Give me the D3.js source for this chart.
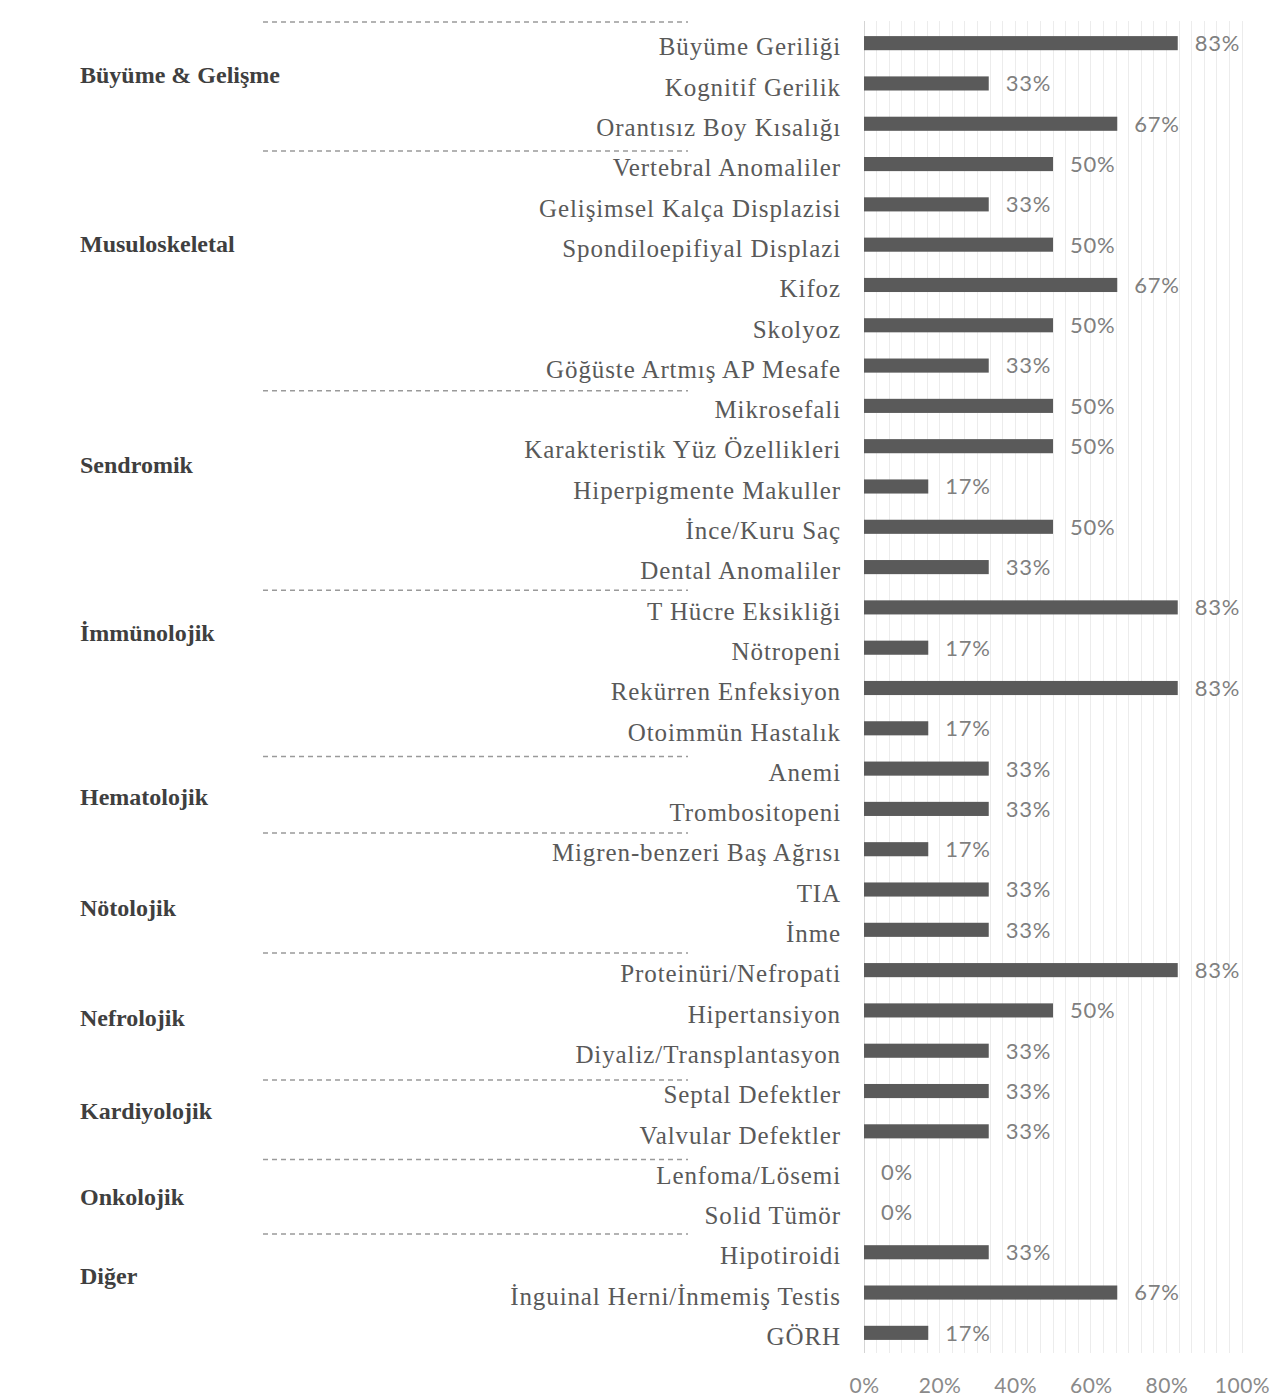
<!DOCTYPE html>
<html lang="tr">
<head>
<meta charset="utf-8">
<title>Klinik bulgular</title>
<script src="https://cdn.jsdelivr.net/npm/d3@7"></script>
<style>
  html, body { margin: 0; padding: 0; background: #ffffff; }
  svg { display: block; }
</style>
</head>
<body>
<script>
// Clinical findings, grouped by system, with the share of patients (%)
const categories = [
  "Büyüme Geriliği", "Kognitif Gerilik", "Orantısız Boy Kısalığı",
  "Vertebral Anomaliler", "Gelişimsel Kalça Displazisi", "Spondiloepifiyal Displazi",
  "Kifoz", "Skolyoz", "Göğüste Artmış AP Mesafe",
  "Mikrosefali", "Karakteristik Yüz Özellikleri", "Hiperpigmente Makuller",
  "İnce/Kuru Saç", "Dental Anomaliler",
  "T Hücre Eksikliği", "Nötropeni", "Rekürren Enfeksiyon", "Otoimmün Hastalık",
  "Anemi", "Trombositopeni",
  "Migren-benzeri Baş Ağrısı", "TIA", "İnme",
  "Proteinüri/Nefropati", "Hipertansiyon", "Diyaliz/Transplantasyon",
  "Septal Defektler", "Valvular Defektler",
  "Lenfoma/Lösemi", "Solid Tümör",
  "Hipotiroidi", "İnguinal Herni/İnmemiş Testis", "GÖRH"
];

const values = [
  83, 33, 67,
  50, 33, 50, 67, 50, 33,
  50, 50, 17, 50, 33,
  83, 17, 83, 17,
  33, 33,
  17, 33, 33,
  83, 50, 33,
  33, 33,
  0, 0,
  33, 67, 17
];

const groupNames = [
  "Büyüme & Gelişme", "Musuloskeletal", "Sendromik", "İmmünolojik",
  "Hematolojik", "Nötolojik", "Nefrolojik", "Kardiyolojik", "Onkolojik", "Diğer"
];
const groupSizes = [3, 6, 5, 4, 2, 3, 3, 2, 2, 3];

const axisTicks = [0, 20, 40, 60, 80, 100];

// ---- layout ----
const W = 1278, H = 1398;
const plot = { left: 864, right: 1242, top: 23, bottom: 1353 };
const labelRight = 840;
const groupLabelX = 80;
const sepX = [263, 688];
// fine vertical nudges (px) for group titles and dashed separators
const groupLabelNudge = [-8, -21, -21, -35, 8, 19, 8, 0, 5, -16];
const separatorNudge = [-1, 7, 5, 3, 8, 4, 3, 9, 8, 2];

const svg = d3.select("body").append("svg")
  .attr("width", W).attr("height", H)
  .attr("viewBox", `0 0 ${W} ${H}`);

const x = d3.scaleLinear().domain([0, 100]).range([plot.left, plot.right]);
const y = d3.scaleBand()
  .domain(categories)
  .range([plot.top, plot.bottom])
  .paddingInner(0.65)
  .paddingOuter(0.325);

const step = y.step();
const rowTop = i => y(categories[i]) - (step - y.bandwidth()) / 2;
const rowMid = i => y(categories[i]) + y.bandwidth() / 2;

// fine vertical gridlines
const gridVals = d3.range(0, 31).map(i => i * 100 / 30);
svg.append("g").attr("class", "grid")
  .selectAll("line").data(gridVals).join("line")
  .attr("x1", d => x(d)).attr("x2", d => x(d))
  .attr("y1", plot.top - 2).attr("y2", plot.bottom)
  .attr("stroke", d => d === 0 ? "#d4d4d4" : "#ececec")
  .attr("stroke-width", 1)
  .attr("shape-rendering", "crispEdges");

// bars
svg.append("g").attr("class", "bars")
  .selectAll("rect").data(values).join("rect")
  .attr("x", x(0))
  .attr("y", (d, i) => y(categories[i]))
  .attr("width", d => x(d) - x(0))
  .attr("height", y.bandwidth())
  .attr("fill", "#5a5a5a");

// value labels
svg.append("g").attr("class", "values")
  .selectAll("text").data(values).join("text")
  .attr("x", d => x(d) + 17)
  .attr("y", (d, i) => rowMid(i))
  .attr("dy", "0.36em")
  .attr("font-family", "Lato, 'Open Sans', sans-serif")
  .attr("font-size", 22)
  .attr("letter-spacing", 0.8)
  .attr("fill", "#7f7f7f")
  .text(d => d + "%");

// category labels
svg.append("g").attr("class", "cats")
  .selectAll("text").data(categories).join("text")
  .attr("x", labelRight + 1)
  .attr("y", (d, i) => rowMid(i) + 4)
  .attr("dy", "0.33em")
  .attr("text-anchor", "end")
  .attr("font-family", "'Liberation Serif', 'Times New Roman', serif")
  .attr("font-size", 25)
  .attr("letter-spacing", 0.9)
  .attr("fill", "#595959")
  .text(d => d);

// group boundaries and titles
const starts = [];
groupSizes.reduce((acc, n) => { starts.push(acc); return acc + n; }, 0);

svg.append("g").attr("class", "separators")
  .selectAll("line").data(starts).join("line")
  .attr("x1", sepX[0]).attr("x2", sepX[1])
  .attr("y1", (s, i) => rowTop(s) + separatorNudge[i])
  .attr("y2", (s, i) => rowTop(s) + separatorNudge[i])
  .attr("stroke", "#9a9a9a")
  .attr("stroke-width", 1.5)
  .attr("stroke-dasharray", "5 4");

svg.append("g").attr("class", "groups")
  .selectAll("text").data(groupNames).join("text")
  .attr("x", groupLabelX)
  .attr("y", (g, i) => {
    const a = starts[i], b = a + groupSizes[i] - 1;
    return (rowMid(a) + rowMid(b)) / 2 + groupLabelNudge[i];
  })
  .attr("dy", "0.33em")
  .attr("font-family", "'Liberation Serif', 'Times New Roman', serif")
  .attr("font-weight", "bold")
  .attr("font-size", 24)
  .attr("fill", "#3f3f3f")
  .text(d => d);

// bottom axis
const axis = svg.append("g").attr("class", "x-axis")
  .attr("transform", `translate(0,${plot.bottom})`)
  .call(d3.axisBottom(x).tickValues(axisTicks).tickFormat(d => d + "%").tickSize(0).tickPadding(25));
axis.select(".domain").remove();
axis.selectAll("text")
  .attr("font-family", "Lato, 'Open Sans', sans-serif")
  .attr("font-size", 21)
  .attr("letter-spacing", 0.5)
  .attr("fill", "#8a8a8a");
</script>
</body>
</html>
